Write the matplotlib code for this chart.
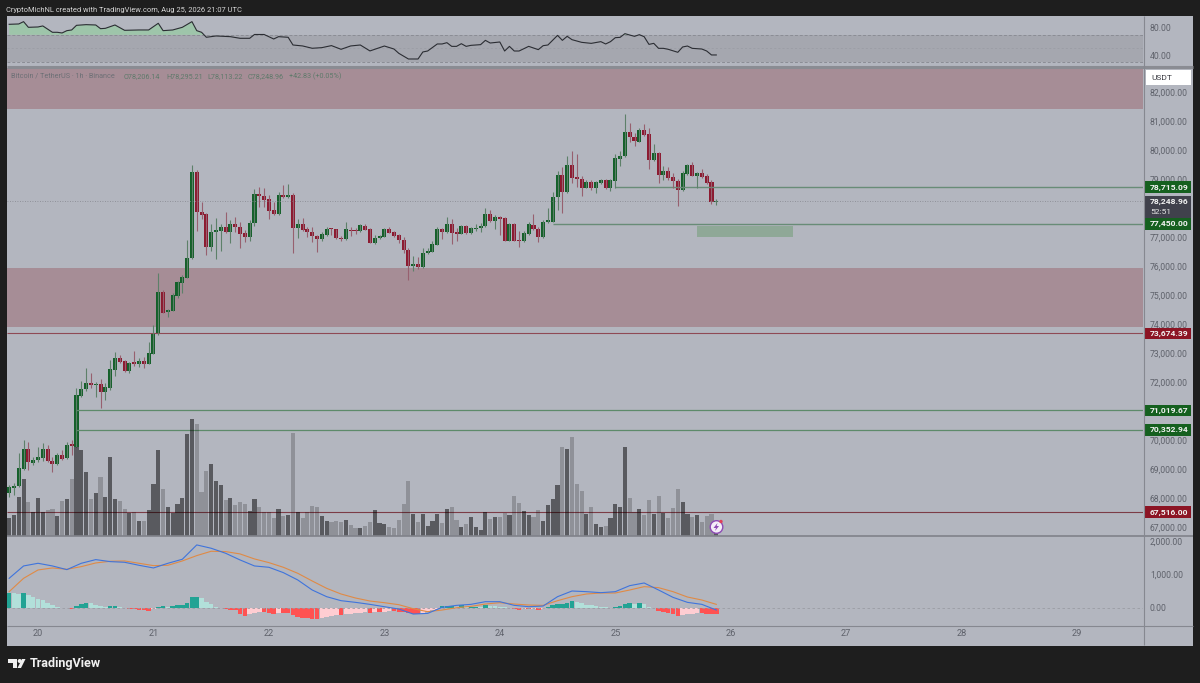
import matplotlib
matplotlib.use('Agg')
import matplotlib.pyplot as plt
from matplotlib.patches import Rectangle, Polygon, Circle
from matplotlib.transforms import blended_transform_factory

plt.rcParams['font.family'] = ['Roboto', 'DejaVu Sans']

# hourly candles, hour 0 = 20th 00:00
hours = list(range(-6, 142))
opens = [68186, 68358, 68415, 69013, 69691, 69208, 69300, 69392, 69691, 69289, 69162, 69473,
         69369, 69852, 69770, 71529, 71748, 71966, 71885, 71931, 71644, 71782, 72425, 72817,
         72725, 72381, 72691, 72622, 72725, 72633, 72978, 73668, 75104, 74414, 74460, 74966,
         75425, 75598, 76264, 79240, 77873, 77781, 76667, 77184, 77218, 77356, 77172, 77448,
         77356, 77126, 76988, 77471, 78471, 78413, 78298, 77919, 77781, 78448, 78390, 78436,
         77322, 77448, 77264, 77184, 77046, 76920, 77081, 77287, 77264, 76977, 76920, 77241,
         77230, 77207, 77391, 77276, 76805, 76954, 77012, 77276, 77161, 77058, 76897, 76564,
         76001, 76058, 75955, 76437, 76495, 76736, 77276, 77161, 77448, 77184, 77115, 77391,
         77127, 77287, 77299, 77368, 77793, 77552, 77690, 77655, 76874, 77460, 76897, 76863,
         77093, 77414, 77277, 76990, 77518, 77530, 78391, 79138, 78541, 79483, 79069, 79000,
         78702, 78885, 78702, 78874, 78954, 78679, 78931, 79678, 79793, 80609, 80459, 80287,
         80689, 80551, 79655, 79908, 79138, 79276, 79081, 78931, 78610, 79172, 79471, 79115,
         79207, 79092, 78885, 78206.14]
closes = [68370, 68427, 69024, 69691, 69231, 69323, 69403, 69702, 69277, 69162, 69473, 69358,
          69829, 69794, 71550, 71759, 71966, 71897, 71931, 71644, 71816, 72437, 72816, 72679,
          72381, 72668, 72622, 72725, 72633, 72990, 73679, 75104, 74391, 74483, 75000, 75437,
          75609, 76264, 79229, 77873, 77770, 76667, 77184, 77241, 77356, 77161, 77448, 77333,
          77103, 76988, 77494, 78471, 78413, 78275, 77896, 77781, 78448, 78367, 78448, 77322,
          77448, 77241, 77161, 77035, 76920, 77115, 77276, 77264, 76954, 76920, 77264, 77207,
          77195, 77402, 77253, 76805, 76966, 77035, 77276, 77150, 77046, 76897, 76552, 76001,
          76069, 75955, 76449, 76518, 76747, 77276, 77161, 77448, 77127, 77104, 77391, 77127,
          77310, 77322, 77391, 77793, 77552, 77701, 77632, 76874, 77448, 76874, 76862, 77127,
          77437, 77265, 76990, 77530, 77587, 78391, 79138, 78541, 79483, 79046, 79000, 78702,
          78885, 78702, 78885, 78966, 78679, 78966, 79713, 79805, 80609, 80448, 80310, 80689,
          80517, 79655, 79885, 79138, 79276, 79046, 78931, 78610, 79195, 79471, 79115, 79207,
          79069, 78874, 78206, 78248.96]
highs = [68450, 68507, 69541, 70001, 69944, 69427, 69771, 69886, 69829, 69427, 69541, 69656,
         69921, 69999, 71782, 72035, 72471, 72299, 71989, 72104, 71954, 72760, 73024, 72932,
         72760, 72702, 73082, 72817, 72852, 73392, 73966, 75770, 75173, 74506, 75058, 75494,
         75690, 76896, 79482, 79309, 78218, 77838, 77448, 77666, 77436, 77850, 77586, 77678,
         77528, 77241, 77586, 78643, 78712, 78677, 78448, 78218, 78540, 78792, 78815, 78528,
         77609, 77643, 77356, 77356, 77069, 77184, 77356, 77299, 77287, 77046, 77529, 77356,
         77299, 77437, 77437, 77299, 77069, 77069, 77322, 77356, 77207, 77092, 77012, 76610,
         76345, 76299, 76610, 76610, 76862, 77356, 77322, 77701, 77609, 77299, 77425, 77414,
         77356, 77448, 77471, 77988, 77931, 77758, 77724, 77678, 77494, 77494, 77218, 77208,
         77507, 77782, 77346, 77587, 77989, 78541, 79287, 79425, 79805, 79977, 79850, 79104,
         78966, 78966, 78931, 79000, 79000, 79000, 79850, 79965, 81229, 80919, 80574, 80770,
         80896, 80747, 80195, 79931, 79448, 79425, 79195, 79000, 79276, 79506, 79575, 79253,
         79345, 79184, 78954, 78295.21]
lows = [68050, 68105, 68392, 68967, 68967, 69139, 69254, 69277, 69254, 68887, 69139, 69312,
        69346, 69484, 69750, 71495, 71690, 71805, 71495, 71116, 71380, 71725, 72206, 72645,
        72358, 72300, 72553, 72530, 72496, 72610, 72955, 73633, 74368, 74230, 74449, 74885,
        75058, 75575, 76241, 77218, 77609, 76379, 76517, 76230, 76529, 77149, 76781, 77183,
        76632, 76816, 76873, 77390, 78045, 78022, 77609, 77758, 77758, 78333, 78333, 76460,
        76954, 77218, 76988, 76839, 76495, 76874, 77046, 77069, 76931, 76874, 76897, 77035,
        77092, 77184, 77230, 76782, 76770, 76920, 76989, 77127, 76989, 76782, 76460, 75518,
        75840, 75897, 75920, 76414, 76472, 76713, 76920, 77127, 76759, 76874, 77092, 77104,
        77104, 77218, 77184, 77333, 77529, 77264, 77069, 76851, 76851, 76851, 76667, 76840,
        77070, 77242, 76817, 76955, 77495, 77507, 77932, 77817, 78506, 78851, 78736, 78426,
        78679, 78621, 78529, 78839, 78656, 78598, 78679, 79460, 79770, 80287, 80149, 80264,
        80494, 79345, 79632, 78851, 78966, 78966, 78679, 78081, 78587, 79138, 79092, 78701,
        79046, 78839, 78127, 78113.22]

volumes = [53, 62, 116, 171, 102, 71, 115, 71, 78, 80, 60, 105,
           112, 171, 268, 257, 192, 112, 130, 176, 118, 238, 111, 105,
           81, 70, 73, 45, 45, 78, 157, 257, 142, 87, 70, 95,
           115, 305, 352, 337, 132, 196, 217, 166, 152, 108, 113, 93,
           103, 96, 76, 112, 86, 71, 71, 55, 81, 61, 63, 308,
           71, 55, 73, 91, 88, 61, 46, 41, 45, 41, 47, 33,
           23, 23, 31, 41, 78, 38, 36, 28, 25, 48, 96, 166,
           66, 43, 65, 31, 45, 66, 38, 80, 86, 48, 28, 36,
           58, 28, 18, 72, 50, 57, 56, 70, 62, 119, 98, 75,
           63, 58, 78, 46, 93, 111, 152, 268, 260, 296, 155, 135,
           66, 88, 37, 28, 30, 55, 95, 88, 268, 113, 73, 82,
           63, 108, 66, 121, 70, 55, 85, 142, 101, 67, 58, 62,
           41, 60, 66, 18]
# 1 = dark bar, 0 = pale bar
volume_dark = [1, 1, 1, 1, 0, 1, 1, 1, 0, 0, 1, 0,
               1, 0, 1, 1, 1, 0, 1, 0, 1, 1, 1, 0,
               0, 1, 0, 1, 0, 1, 1, 1, 0, 1, 1, 1,
               1, 1, 1, 0, 0, 0, 1, 1, 1, 0, 1, 0,
               0, 0, 1, 1, 0, 0, 0, 0, 1, 0, 1, 0,
               1, 0, 0, 0, 0, 1, 1, 0, 0, 0, 1, 0,
               0, 1, 0, 0, 1, 1, 1, 0, 0, 0, 0, 0,
               1, 0, 1, 1, 1, 1, 0, 1, 0, 0, 1, 0,
               1, 1, 1, 1, 0, 1, 0, 0, 1, 0, 0, 1,
               1, 0, 0, 1, 1, 1, 1, 0, 1, 0, 0, 0,
               1, 0, 1, 1, 0, 1, 1, 1, 1, 0, 0, 1,
               0, 0, 1, 0, 1, 0, 0, 0, 1, 1, 0, 1,
               0, 0, 0, 1]

macd_hours = list(range(-6, 142, 3))
macd_line = [880, 1250, 1330, 1250, 1140, 1330, 1440, 1380, 1360, 1270, 1190, 1330, 1450,
             1880, 1780, 1630, 1430, 1250, 1210, 1050, 830, 530, 330, 210, 160, 100, 30, -40,
             -190, -170, 10, 70, 100, 180, 180, 70, 30, 50, 330, 500, 480, 450, 480, 660, 740,
             530, 310, 160, 100, -70]
signal_line = [480, 880, 1130, 1190, 1150, 1230, 1340, 1390, 1400, 1330, 1260, 1270, 1400,
               1560, 1690, 1680, 1610, 1460, 1350, 1210, 1030, 800, 580, 410, 290, 200, 150, 90,
               -30, -120, -70, 0, 40, 110, 150, 110, 80, 70, 210, 330, 410, 440, 440, 530, 630,
               600, 480, 320, 230, 100]
macd_hist = [450, 430, 420, 430, 380, 310, 270, 240, 150, 90, 30, -10,
             -20, -30, 60, 120, 150, 130, 90, 60, 30, 50, 50, 20,
             -20, -40, -50, -70, -80, -110, -40, 30, 50, 20, 60, 70,
             80, 130, 310, 310, 280, 160, 110, 30, -10, -40, -60, -80,
             -190, -240, -190, -150, -130, -130, -170, -180, -150, -150, -150, -230,
             -280, -300, -320, -340, -340, -320, -270, -250, -230, -230, -200, -180,
             -160, -150, -130, -150, -130, -130, -120, -110, -110, -120, -130, -150,
             -190, -190, -150, -110, -70, -30, 40, 60, 60, 30, 70, 30,
             30, 30, 20, 70, 60, 50, 30, 10, 0, -30, -60, -40,
             -50, -40, -70, -30, 10, 70, 100, 120, 150, 210, 180, 130,
             90, 70, 50, 30, 10, 0, 30, 50, 100, 130, 100, 130,
             110, 10, -10, -100, -140, -160, -190, -250, -210, -190, -180, -170,
             -170, -180, -180, -200]

rsi_hours = [-6, -4, -3, -2, 0, 1, 3, 4, 5, 6, 7, 8, 10, 12, 13, 14, 16, 18, 21, 23, 25, 26, 28,
             30, 32, 33, 34, 35, 37, 40, 42, 44, 45, 47, 49, 50, 52, 53, 55, 57, 59, 61, 63, 65,
             67, 69, 71, 72, 74, 75, 77, 79, 80, 81, 83, 84, 85, 86, 87, 88, 89, 90, 92, 93, 94,
             96, 97, 98, 99, 100, 102, 104, 105, 106, 108, 109, 110, 111, 113, 115, 117, 118,
             119, 120, 121, 122, 123, 124, 125, 126, 127, 128, 129, 130, 131, 133, 134, 135,
             136, 138, 139, 140, 141]
rsi_values = [85.4, 85.9, 89.3, 81, 81.5, 83, 73.7, 73.7, 72.7, 76.1, 77.1, 83.9, 84.9, 84.4, 79,
              79.5, 84.4, 76.6, 77.1, 77.1, 86.9, 76.1, 77.1, 81, 89.3, 76.1, 73.7, 66.4, 68.3,
              67.3, 64.9, 64.9, 70.5, 70.5, 63.9, 67.3, 66.4, 55.1, 53.7, 50.3, 51.2, 54.2, 48.8,
              53.7, 55.1, 46.4, 51.2, 53.6, 49.2, 42.9, 34.6, 34.6, 44.9, 46.3, 56.6, 56.6, 58.5,
              53.1, 53.1, 57, 53.1, 54.6, 55.6, 61.9, 58, 59.5, 46.3, 53.1, 46.3, 46.3, 53.1,
              48.3, 54.1, 55.1, 69.2, 61.9, 67.8, 62.9, 59, 57.5, 60, 56.6, 60, 65.8, 66.3, 71.7,
              69.7, 67.8, 70.2, 67.3, 56, 57.5, 50.2, 50.2, 48.8, 44.4, 52.2, 53.6, 50.2, 49.2,
              46.3, 40.5, 40.5]

# 71,000 and 78,000 sit under price tags in the original
price_ticks = [67000, 68000, 69000, 70000, 72000, 73000, 74000, 75000, 76000, 77000, 79000,
               80000, 81000, 82000]
macd_ticks = [0, 1000, 2000]
rsi_ticks = [40, 80]
day_ticks = list(range(0, 240, 24))
day_labels = ['20', '21', '22', '23', '24', '25', '26', '27', '28', '29']

BG = '#b3b6bf'
DARK = '#1e1e1e'
GREEN = '#14602a'
RED = '#8c1a30'
TICK = '#5f626b'
XMIN, XMAX = -6.445, 229.7

W, H = 1200, 683
fig = plt.figure(figsize=(12, 6.83), dpi=100, facecolor=DARK)


def panel(top, bottom):
    # axes from pixel rows of the picture
    ax = fig.add_axes([7 / W, 1 - bottom / H, 1136 / W, (bottom - top) / H])
    ax.set_facecolor(BG)
    ax.set_xlim(XMIN, XMAX)
    for s in ax.spines.values():
        s.set_visible(False)
    ax.yaxis.tick_right()
    ax.tick_params(axis='y', length=0, pad=5, labelsize=6.2, labelcolor=TICK)
    ax.set_xticks([])
    return ax


# backdrop for the right hand scale and the frame
back = fig.add_axes([0, 0, 1, 1])
back.set_xlim(0, W)
back.set_ylim(H, 0)
back.axis('off')
back.add_patch(Rectangle((7, 16), 1186, 629.5, color=BG, lw=0))

# RSI
ax_rsi = panel(17, 65)
ax_rsi.set_ylim(25.8, 96.1)
ax_rsi.axhspan(30, 70, color='#a5a7af', lw=0)
for level in (70, 30):
    ax_rsi.axhline(level, color='#8b8d95', lw=0.7, ls=(0, (3, 2)))
ax_rsi.axhline(50, color='#999ba3', lw=0.5, ls=(0, (3, 3)))
ax_rsi.fill_between(rsi_hours, rsi_values, 70, where=[v >= 70 for v in rsi_values],
                    interpolate=True, color='#98cba3', alpha=0.75, lw=0)
ax_rsi.plot(rsi_hours, rsi_values, color='#2b2d33', lw=0.8)
ax_rsi.set_yticks(rsi_ticks)
ax_rsi.set_yticklabels(['40.00', '80.00'])

# price
ax = panel(68, 536)
ymin, ymax = 66690, 82826
ax.set_ylim(ymin, ymax)
ax.axhspan(81396, 83000, color='#a68d96', lw=0)
ax.axhspan(73907, 75941, color='#a68d96', lw=0)
ax.add_patch(Rectangle((137, 77000), 20, 379, color='#8fa897', lw=0))
ax.axhline(closes[-1], color='#84868e', lw=0.6, ls=(0, (1, 2)))
ax.hlines(73674.39, XMIN, XMAX, color='#8f4a55', lw=0.8)
ax.hlines(67516, XMIN, XMAX, color='#7c3c46', lw=0.8)
ax.hlines(78715.09, 120, XMAX, color='#688c77', lw=1.0)
ax.hlines(77450, 107, XMAX, color='#688c77', lw=1.0)
ax.hlines(71019.67, 8, XMAX, color='#5d8a6a', lw=0.9)
ax.hlines(70352.94, 8, XMAX, color='#5d8a6a', lw=0.9)

colors = [GREEN if c >= o else RED for o, c in zip(opens, closes)]
wick_colors = ['#5d8069' if c >= o else '#97606f' for o, c in zip(opens, closes)]
ax.vlines(hours, lows, highs, colors=wick_colors, lw=0.8)
ax.bar(hours, [max(abs(c - o), 30) for o, c in zip(opens, closes)],
       bottom=[min(o, c) for o, c in zip(opens, closes)], width=0.84, color=colors, lw=0)
ax.set_yticks(price_ticks)
ax.set_yticklabels([f'{p:,.2f}' for p in price_ticks])

ax_vol = fig.add_axes(ax.get_position(), sharex=ax)
ax_vol.patch.set_visible(False)
ax_vol.axis('off')
ax_vol.set_ylim(0, 1404)
ax_vol.bar(hours, volumes, width=0.86, lw=0,
           color=[(0, 0, 0, 0.5) if d else (0, 0, 0, 0.2) for d in volume_dark])

tag_x = blended_transform_factory(ax.transAxes, ax.transData)


def price_tag(value, text, color):
    ax.add_patch(Rectangle((1.0009, value - 200), 0.0414, 400, transform=tag_x, color=color,
                           lw=0, clip_on=False, zorder=6))
    ax.text(1.0062, value, text, transform=tag_x, color='#f2f2f2', fontsize=6.1, va='center',
            fontweight='bold', zorder=7, clip_on=False)


price_tag(78715.09, '78,715.09', '#15601f')
price_tag(77450, '77,450.00', '#15601f')
price_tag(73674.39, '73,674.39', '#8c1424')
price_tag(71019.67, '71,019.67', '#15601f')
price_tag(70352.94, '70,352.94', '#15601f')
price_tag(67516, '67,516.00', '#8c1424')

last = closes[-1]
ax.add_patch(Rectangle((1.0009, last - 590), 0.0414, 770, transform=tag_x, color='#40414c',
                       lw=0, clip_on=False, zorder=6))
ax.text(1.0062, last - 30, '78,248.96', transform=tag_x, color='#f2f2f2', fontsize=6.1,
        va='center', zorder=7, fontweight='bold')
ax.text(1.0062, last - 385, '52:51', transform=tag_x, color='#e6e6e6', fontsize=6.1,
        va='center', zorder=7)

# MACD
ax_macd = panel(537, 626)
ax_macd.set_ylim(-548, 2117)
ax_macd.axhline(0, color='#9a9ca4', lw=0.6, ls=(0, (3, 3)))
hist_colors = []
for i, v in enumerate(macd_hist):
    prev = macd_hist[i - 1] if i else 0
    if v >= 0:
        hist_colors.append('#22a394' if v >= prev else '#b2e0da')
    else:
        hist_colors.append('#ff5252' if v <= prev else '#ffcdd2')
ax_macd.bar(hours, macd_hist, width=0.95, color=hist_colors, lw=0)
ax_macd.plot(macd_hours, signal_line, color='#e08a45', lw=0.8)
ax_macd.plot(macd_hours, macd_line, color='#3f74dc', lw=0.8)
ax_macd.set_yticks(macd_ticks)
ax_macd.set_yticklabels(['0.00', '1,000.00', '2,000.00'])

# time scale strip
ax_time = panel(627, 645)
ax_time.set_ylim(0, 1)
ax_time.set_yticks([])
ax_time.set_xticks(day_ticks)
ax_time.set_xticklabels(day_labels)
ax_time.tick_params(axis='x', length=0, pad=-11.5, labelsize=6.6, labelcolor=TICK)

# top layer: separators, header, legend, logo
top = fig.add_axes([0, 0, 1, 1], zorder=10)
top.set_xlim(0, W)
top.set_ylim(H, 0)
top.axis('off')
top.hlines(66.5, 7, 1193, color='#8a8c93', lw=2.2)
top.hlines(535.7, 7, 1193, color='#80828a', lw=1.2)
top.hlines(626, 7, 1193, color='#868890', lw=0.8)
top.vlines(1143.7, 16, 645, color='#868890', lw=0.8)

top.text(6, 10, 'CryptoMichNL created with TradingView.com, Aug 25, 2026 21:07 UTC',
         color='#d6d6d6', fontsize=5.45, va='center')
legend_color = '#5f7a6b'
top.text(11, 76.5, 'Bitcoin / TetherUS · 1h · Binance', color='#6d7076', fontsize=5.2, va='center')
for x, s in [(124, 'O78,206.14'), (166, 'H78,295.21'), (207, 'L78,113.22'), (248, 'C78,248.96'),
             (289, '+42.83 (+0.05%)')]:
    top.text(x, 76.5, s, color=legend_color, fontsize=5.2, va='center')

top.add_patch(Rectangle((1146, 70), 45, 15, facecolor='white', edgecolor='none'))
top.text(1151, 77.5, 'USDT', color='#3a3b42', fontsize=6, va='center')

top.add_patch(Polygon([(8, 659), (17, 659), (17, 668), (12.5, 668), (12.5, 663), (8, 663)],
                      color='#f0f0f0', lw=0))
top.add_patch(Circle((19.7, 661), 2, color='#f0f0f0', lw=0))
top.add_patch(Polygon([(22, 659), (25.5, 659), (21, 668), (17.5, 668)], color='#f0f0f0', lw=0))
top.text(30, 664, 'TradingView', color='#f0f0f0', fontsize=9.1, va='center', fontweight='bold')

top.add_patch(Circle((716.5, 527), 6.3, facecolor='#f4eef8', edgecolor='#8e4bb5', lw=1))
top.add_patch(Polygon([(717.5, 523), (713.5, 528), (716, 528), (715, 531), (719, 526), (716.7, 526)],
                      color='#8e4bb5', lw=0))
top.add_patch(Circle((721, 521.5), 1.7, color='#e0405a', lw=0))

fig.savefig('out.png', dpi=100, facecolor=DARK)
